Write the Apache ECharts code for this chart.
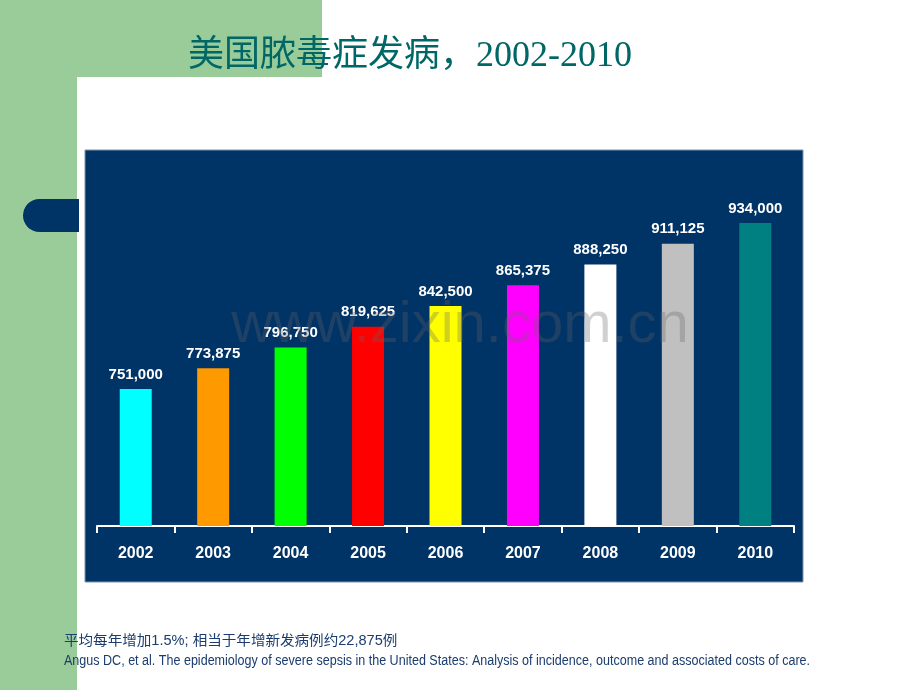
<!DOCTYPE html>
<html><head><meta charset="utf-8">
<script src="https://cdn.jsdelivr.net/npm/echarts@6/dist/echarts.min.js"></script>
<style>html,body{margin:0;padding:0;background:#fff}#c{width:920px;height:690px}</style>
</head><body><div id="c"></div>
<script>
const years = ['2002','2003','2004','2005','2006','2007','2008','2009','2010'];
const cases = [751000,773875,796750,819625,842500,865375,888250,911125,934000];
const barColors = ['#00ffff','#ff9900','#00ff00','#ff0000','#ffff00','#ff00ff','#ffffff','#c0c0c0','#008080'];
const titleText = '美国脓毒症发病，2002-2010';
const noteText = '平均每年增加1.5%; 相当于年增新发病例约22,875例';
const sourceText = 'Angus DC, et al. The epidemiology of severe sepsis in the United States: Analysis of incidence, outcome and associated costs of care.';
const watermark = 'www.zixin.com.cn';

const chart = echarts.init(document.getElementById('c'));
const fmt = v => v.toString().replace(/\B(?=(\d{3})+(?!\d))/g, ',');
const sans = '"Liberation Sans", Arial, "Noto Sans CJK SC", sans-serif';
chart.setOption({
  backgroundColor: '#ffffff',
  animation: false,
  graphic: [
    {type:'rect', z:-10, shape:{x:0,y:0,width:322,height:77}, style:{fill:'#99cc99'}},
    {type:'rect', z:-10, shape:{x:0,y:0,width:77,height:690}, style:{fill:'#99cc99'}},
    {type:'rect', z:-9, shape:{x:77,y:77,width:843,height:613,r:[27,0,0,0]}, style:{fill:'#ffffff'}},
    {type:'rect', z:-8, shape:{x:23,y:199,width:56,height:33,r:[16.5,0,0,16.5]}, style:{fill:'#003366'}},
    {type:'rect', z:-8, shape:{x:85,y:150,width:718,height:432}, style:{fill:'#003366', stroke:'#7f95ad', lineWidth:1}},
    {type:'text', z:-5, x:410, y:57, style:{text:titleText, fill:'#006666', font:'36px "Liberation Serif", "Noto Sans CJK SC", serif', align:'center', verticalAlign:'middle'}},
    {type:'text', z:-5, x:64, y:641, originX:0, scaleX:1.04, style:{text:noteText, fill:'#1a3c6e', font:'14px ' + sans, align:'left', verticalAlign:'middle'}},
    {type:'text', z:-5, x:64, y:661, originX:0, scaleX:0.896, style:{text:sourceText, fill:'#1a3c6e', font:'14px ' + sans, align:'left', verticalAlign:'middle'}},
    {type:'text', z:100, x:460, y:326, style:{text:watermark, fill:'rgba(100,100,100,0.3)', font:'58px "Liberation Sans", Arial, sans-serif', align:'center', verticalAlign:'middle'}}
  ],
  grid: {left:97, right:126, top:163, bottom:164},
  xAxis: {
    type:'category', data: years,
    axisLine:{show:true, lineStyle:{color:'#ffffff', width:2}},
    axisTick:{show:true, alignWithLabel:false, interval:0, length:7, lineStyle:{color:'#ffffff', width:2}},
    axisLabel:{color:'#ffffff', fontSize:16, fontWeight:'bold', fontFamily:sans, margin:20}
  },
  yAxis: {type:'value', min:600000, max:1000000, show:false, splitLine:{show:false}},
  series: [{
    type:'bar', barWidth:32,
    data: cases.map((v,i)=>({value:v, itemStyle:{color:barColors[i]}})),
    label:{show:true, position:'top', distance:7, color:'#ffffff', fontSize:15, fontWeight:'bold', fontFamily:sans, formatter: p => fmt(p.value)}
  }]
});
</script></body></html>
